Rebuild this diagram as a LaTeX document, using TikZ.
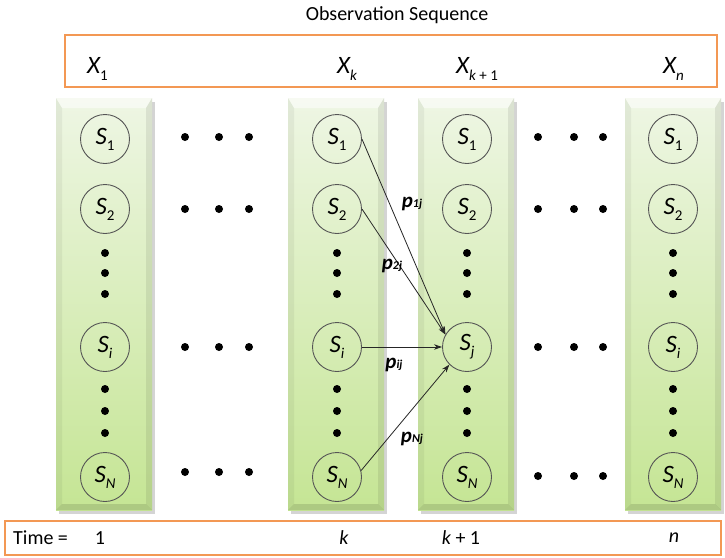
\documentclass[tikz,border=0pt]{standalone}
\usepackage{fontspec}
\setmainfont{Carlito}
\usetikzlibrary{arrows.meta}
\definecolor{boxorange}{RGB}{243,152,84}
\definecolor{bartop}{RGB}{238,246,228}
\definecolor{barbot}{RGB}{197,229,148}
\definecolor{circline}{RGB}{85,85,85}
\newcommand\dnsub[3]{\raisebox{-#1}{\fontsize{#2}{#2}\selectfont #3}}
\newcommand\greencol[1]{%
  \fill[black!30,opacity=0.55] ({#1+3},102) rectangle ({#1+99},514);
  \shade[top color=bartop,bottom color=barbot] (#1,98) rectangle ({#1+96},510);
  \fill[white,opacity=0.55] (#1,98) -- ({#1+96},98) -- ({#1+90},108) -- ({#1+6},108) -- cycle;
  \fill[black,opacity=0.05] (#1,98) -- ({#1+6},108) -- ({#1+6},504) -- (#1,510) -- cycle;
  \fill[black,opacity=0.08] ({#1+96},98) -- ({#1+90},108) -- ({#1+90},504) -- ({#1+96},510) -- cycle;
  \fill[black,opacity=0.12] (#1,510) -- ({#1+96},510) -- ({#1+90},504) -- ({#1+6},504) -- cycle;
}
\tikzset{
  state/.style={circle,draw=circline,line width=0.9pt,minimum size=49pt,inner sep=0pt,
    font=\fontsize{25}{25}\selectfont\itshape},
  bigdot/.style={circle,fill=black,minimum size=8pt,inner sep=0pt},
  obs/.style={font=\fontsize{25}{25}\selectfont\itshape,anchor=base west,inner sep=0pt},
  timetxt/.style={font=\fontsize{20}{20}\selectfont,inner sep=0pt},
  trans/.style={-{Stealth[length=8pt,width=5.5pt]},line width=0.8pt,black!85},
  plabel/.style={font=\fontsize{21}{21}\selectfont\bfseries\itshape,inner sep=0pt},
  orangebox/.style={draw=boxorange,line width=2.8pt},
}
\begin{document}
\begin{tikzpicture}[x=1pt,y=-1pt]
\useasboundingbox (0,0) rectangle (725,557);
\fill[white] (0,0) rectangle (725,557);

% title and boxes
\node[font=\fontsize{20}{20}\selectfont,inner sep=0pt] (title) at (397,15) {Observation Sequence};
\draw[orangebox] (65,35) rectangle (717,87);
\draw[orangebox] (5,521) rectangle (721,555);

% observation labels
\node[obs] (x1) at (87,73) {X\dnsub{7pt}{15}{\upshape 1}};
\node[obs] (xk) at (337,73) {X\dnsub{7pt}{15}{k}};
\node[obs] (xk1) at (456,73) {X\dnsub{7pt}{15}{k \upshape + 1}};
\node[obs] (xn) at (663,73) {X\dnsub{7pt}{15}{n}};

% columns
\greencol{56}
\greencol{288}
\greencol{418}
\greencol{625}

% states
\foreach \c/\x/\m in {a/105/i,b/337/i,c/467/j,d/673/i}{
  \node[state] (\c1) at (\x,139) {S\dnsub{6pt}{15}{\upshape 1}};
  \node[state] (\c2) at (\x,209) {S\dnsub{6pt}{15}{\upshape 2}};
  \node[state] (\c i) at (\x,347) {S\dnsub{6pt}{15}{\m}};
  \node[state] (\c N) at (\x,477) {S\dnsub{6pt}{15}{N}};
  \foreach \y [count=\n] in {253,273,294,389,411,433}
    \node[bigdot] (\c dot\n) at (\x,\y) {};
}

% horizontal ellipsis dots
\foreach \y [count=\r] in {137,209,347,472}{
  \foreach \x [count=\n] in {185,219,249}
    \node[bigdot] (ldot\r\n) at (\x,\y) {};
}
\foreach \y [count=\r] in {137,209,347,476}{
  \foreach \x [count=\n] in {538,574,603}
    \node[bigdot] (rdot\r\n) at (\x,\y) {};
}

% transitions
\draw[trans] (b1.east) -- (ci.150);
\draw[trans] (b2.east) -- (ci.150);
\draw[trans] (bi.east) -- (ci.west);
\draw[trans] (bN.15) -- (ci.225);

\node[plabel] (p1) at (412,204) {p\dnsub{0pt}{12}{1j}};
\node[plabel] (p2) at (392,266) {p\dnsub{0pt}{12}{2j}};
\node[plabel] (pi) at (394,365) {p\dnsub{0pt}{12}{ij}};
\node[plabel] (pN) at (412,439) {p\dnsub{0pt}{12}{Nj}};

% time row
\node[timetxt,anchor=west] (time) at (13,538) {Time =};
\node[timetxt] (t1) at (100,538) {1};
\node[timetxt,font=\fontsize{20}{20}\selectfont\itshape] (tk) at (344,538) {k};
\node[timetxt,font=\fontsize{20}{20}\selectfont\itshape] (tk1) at (461,538) {k \upshape+ 1};
\node[timetxt,font=\fontsize{20}{20}\selectfont\itshape] (tn) at (674,538) {n};
\end{tikzpicture}
\end{document}
